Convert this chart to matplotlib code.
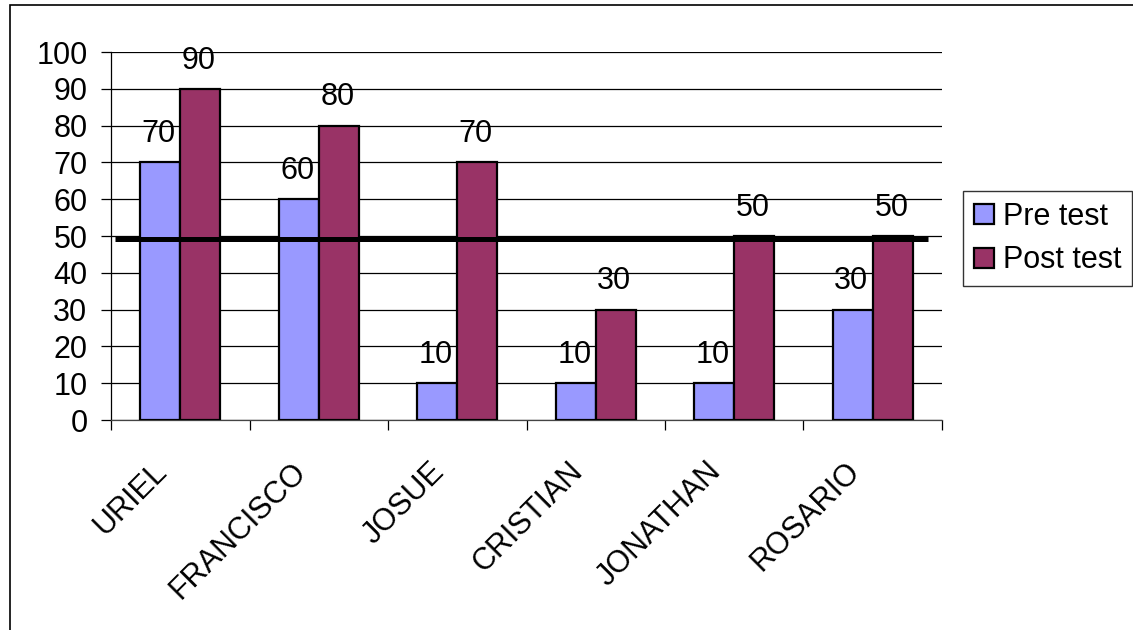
import matplotlib
matplotlib.use("Agg")
import matplotlib.pyplot as plt
import numpy as np
from matplotlib.patches import Rectangle
from matplotlib.transforms import ScaledTranslation

students = ["URIEL", "FRANCISCO", "JOSUE", "CRISTIAN", "JONATHAN", "ROSARIO"]
pre_test = [70, 60, 10, 10, 10, 30]
post_test = [90, 80, 70, 30, 50, 50]
series_names = ["Pre test", "Post test"]
series_colors = ["#9999FF", "#993366"]
pass_mark = 49.2
y_ticks = list(range(0, 101, 10))

plt.rcParams["font.family"] = ["Liberation Sans", "DejaVu Sans"]
FS = 22

W, H = 1133, 630
fig = plt.figure(figsize=(W / 100, H / 100), dpi=100)

# outer chart frame
fig.patches.append(Rectangle((9.5 / W, -0.1), 1.2, (H - 5) / H + 0.1,
                             transform=fig.transFigure, fill=False,
                             edgecolor="black", linewidth=1.2, zorder=0))

ax = fig.add_axes([111 / W, (H - 420) / H, (942 - 111) / W, (420 - 52) / H])

x = np.arange(len(students))
bw = 0.289
for vals, off, color, name in zip([pre_test, post_test], [-bw / 2, bw / 2],
                                  series_colors, series_names):
    bars = ax.bar(x + off, vals, width=bw, color=color, edgecolor="black",
                  linewidth=1.6, label=name, zorder=3)
    for b, v in zip(bars, vals):
        ax.annotate(str(v), (b.get_x() + b.get_width() / 2, v),
                    xytext=(-1, 9.5), textcoords="offset points",
                    ha="center", va="bottom", fontsize=FS, zorder=4)

ax.set_xlim(-0.5, len(students) - 0.5)
ax.set_ylim(0, 100)
ax.set_yticks(y_ticks)
ax.yaxis.grid(True, color="black", linewidth=0.9)
ax.set_axisbelow(True)
ax.tick_params(axis="y", length=7, width=0.9, labelsize=FS, pad=10)

# category ticks sit at the boundaries between groups
ax.set_xticks(np.arange(-0.5, len(students)), minor=False)
ax.set_xticklabels([])
ax.set_xticks(x, minor=True)
ax.set_xticklabels(students, minor=True, rotation=45, ha="right",
                   rotation_mode="anchor", fontsize=FS)
ax.tick_params(axis="x", which="major", length=7, width=0.9)
ax.tick_params(axis="x", which="minor", length=0, pad=14)
shift = ScaledTranslation(-0.28, -0.17, fig.dpi_scale_trans)
for lbl in ax.get_xticklabels(minor=True):
    lbl.set_transform(lbl.get_transform() + shift)

for s in ["top", "right"]:
    ax.spines[s].set_visible(False)
ax.spines["left"].set_linewidth(0.9)
ax.spines["bottom"].set_linewidth(0.9)
ax.spines["bottom"].set_color("#444444")

# pass mark reference line
ax.plot([-0.47, 5.4], [pass_mark, pass_mark], color="black", linewidth=3.6,
        zorder=5, solid_capstyle="butt")

leg = ax.legend(loc="upper left", bbox_to_anchor=(963 / W, (H - 191) / H),
                bbox_transform=fig.transFigure, fontsize=FS, frameon=True,
                fancybox=False, edgecolor="black", handlelength=0.65,
                handleheight=0.65, handletextpad=0.3, borderpad=0.35,
                labelspacing=0.45, borderaxespad=0)
leg.get_frame().set_linewidth(1.0)

fig.savefig("out.png", dpi=100)
